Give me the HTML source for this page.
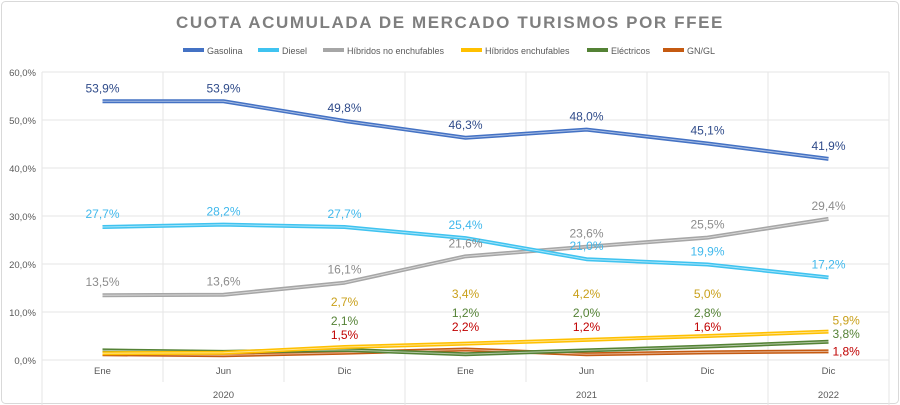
<!DOCTYPE html>
<html><head><meta charset="utf-8"><style>
body{margin:0;background:#fff;font-family:"Liberation Sans",sans-serif}
svg{display:block}
</style></head><body>
<svg width="900" height="405" id="c">
<rect x="1.5" y="1.5" width="897" height="402" rx="4" fill="#fff" stroke="#d9d9d9"/>
<text x="450" y="28" text-anchor="middle" font-size="17" font-weight="bold" letter-spacing="1.6" fill="#7f7f7f">CUOTA ACUMULADA DE MERCADO TURISMOS POR FFEE</text>
<g id="grid"></g><g id="lines"></g><g id="labels"></g><g id="legend"></g>
</svg>
<script>
const categories=["Ene","Jun","Dic","Ene","Jun","Dic","Dic"];
const years=["2020","2021","2022"];
const yearSpans=[3,3,1];
const yTicks=[0,10,20,30,40,50,60];
const gasolina=[53.9,53.9,49.8,46.3,48.0,45.1,41.9];
const diesel=[27.7,28.2,27.7,25.4,21.0,19.9,17.2];
const hibNo=[13.5,13.6,16.1,21.6,23.6,25.5,29.4];
const hibEnch=[1.4,1.5,2.7,3.4,4.2,5.0,5.9];
const electricos=[2.0,1.7,2.1,1.2,2.0,2.8,3.8];
const gnGl=[1.2,1.0,1.5,2.2,1.2,1.6,1.8];
const seriesNames=["Gasolina","Diesel","Híbridos no enchufables","Híbridos enchufables","Eléctricos","GN/GL"];

const NS="http://www.w3.org/2000/svg";
const X0=42,CW=121,Y0=360,YS=4.8;
const xs=i=>X0+CW*(i+0.5);
const ys=v=>Y0-v*YS;
function mk(tag,attrs,parent,txt){const e=document.createElementNS(NS,tag);for(const k in attrs)e.setAttribute(k,attrs[k]);if(txt!==undefined)e.textContent=txt;parent.appendChild(e);return e;}
const grid=document.getElementById('grid'),lines=document.getElementById('lines'),labels=document.getElementById('labels'),legend=document.getElementById('legend');
yTicks.forEach(t=>{
 const l=mk('line',{x1:X0,x2:X0+CW*7,y1:ys(t),y2:ys(t),stroke:'#e6e6e6'},grid);
 
 
 const tx=mk('text',{x:36,y:ys(t)+4,'text-anchor':'end','font-size':9.5,fill:'#595959'},grid,t.toFixed(1).replace('.',',')+'%');
 
 
});
for(let i=0;i<=7;i++){
 const l=mk('line',{x1:X0+CW*i,x2:X0+CW*i,y1:ys(60),y2:Y0+(i===0||i===3||i===6||i===7?45:22),stroke:'#e6e6e6'},grid);
 
 
}
categories.forEach((c,i)=>{
 const t=mk('text',{x:xs(i),y:374,'text-anchor':'middle','font-size':9.5,fill:'#595959'},grid,c);
 
 
});
let acc=0;
years.forEach((y,j)=>{
 const cx=X0+CW*(acc+yearSpans[j]/2);acc+=yearSpans[j];
 const t=mk('text',{x:cx,y:398,'text-anchor':'middle','font-size':9.5,fill:'#595959'},grid,y);
 
 
});
const fmt=v=>v.toFixed(1).replace('.',',')+'%';
const defs=[
 {d:gasolina,c:'#4472c4',lc:'#2f4b8a',lab:'all',off:-9,name:'gasolina',row:0},
 {d:diesel,c:'#3fc3f0',lc:'#3fb8ec',lab:'all',off:-9,name:'diesel',row:0},
 {d:hibNo,c:'#a6a6a6',lc:'#8c8c8c',lab:'all',off:-9,name:'hibridos-no-enchufables',row:0},
 {d:hibEnch,c:'#ffc000',lc:'#c9a01a',lab:'late',off:-42,name:'hibridos-enchufables',row:62},
 {d:electricos,c:'#548235',lc:'#548235',lab:'late',off:-30,name:'electricos',row:43},
 {d:gnGl,c:'#c55a11',lc:'#c00000',lab:'late',off:-18,name:'gn-gl',row:29}
];
defs.slice().reverse().forEach(s=>{
 const pts=s.d.map((v,i)=>xs(i)+','+ys(v)).join(' ');
 const p=mk('polyline',{points:pts,fill:'none',stroke:s.c,'stroke-width':4,'stroke-linejoin':'round'},lines);
 
 
 const p2=mk('polyline',{points:pts,fill:'none',stroke:'#ffffff','stroke-opacity':0.55,'stroke-width':1,'stroke-linejoin':'round'},lines);
 
 
});
defs.forEach(s=>{
 s.d.forEach((v,i)=>{
  if(s.lab==='late'&&i<2)return;
  let x=xs(i),y=ys(v)+s.off,anchor='middle';
  if(s.lab==='late'&&i<6){y=Y0-s.row+(i===2?8:0);}
  if(s.lab==='late'&&i===6){x=xs(i)+4;anchor='start';y=ys(v)+ (s.name==='gn-gl'?4:(s.name==='electricos'?-4:-7));}
  const t=mk('text',{x:x,y:y,'text-anchor':anchor,'font-size':12,fill:s.lc},labels,fmt(v));
  
  
 });
});
const lx=[183,258,323,461,587,663];
seriesNames.forEach((n,i)=>{
 const g=mk('g',{},legend);
 
 
 mk('rect',{x:lx[i],y:48,width:21,height:4,fill:defs[i].c},g);
 mk('text',{x:lx[i]+24,y:54,'font-size':9,fill:'#595959'},g,n);
});
</script>
</body></html>
